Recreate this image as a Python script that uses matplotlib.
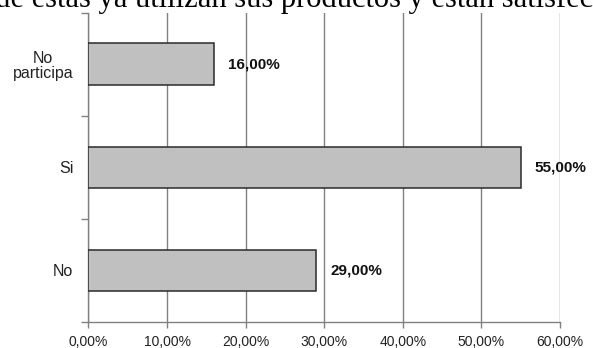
import matplotlib.pyplot as plt
import numpy as np

# survey answers, bottom to top
categorias = ['No', 'Si', 'No\nparticipa']
porcentajes = [29.0, 55.0, 16.0]
ticks_x = [0, 10, 20, 30, 40, 50, 60]

plt.rcParams['font.family'] = ['Liberation Sans', 'DejaVu Sans']

fig = plt.figure(figsize=(5.93, 3.48), dpi=100)
ax = fig.add_axes([0.1492, 0.0747, 0.7952, 0.8893])

y = np.arange(len(categorias))
ax.barh(y, porcentajes, height=0.4, color='#c0c0c0', edgecolor='#2b2b2b',
        linewidth=1.1, zorder=3)

def fmt(v):
    return '{:.2f}%'.format(v).replace('.', ',')

for yi, v in zip(y, porcentajes):
    ax.annotate(fmt(v), (v, yi), xytext=(10, 0), textcoords='offset points',
                va='center', ha='left', fontsize=11, fontweight='bold',
                color='#111111', zorder=4)

ax.set_xlim(0, 60)
ax.set_ylim(-0.5, len(categorias) - 0.5)
ax.set_xticks(ticks_x)
ax.set_xticklabels([fmt(t) for t in ticks_x], fontsize=10, color='#222222')
ax.set_yticks(y)
ax.set_yticklabels(categorias, fontsize=11.5, color='#222222', ha='right',
                   multialignment='center', linespacing=1.0)
ax.tick_params(axis='y', length=0, pad=11)
ax.set_yticks(np.arange(len(categorias) + 1) - 0.5, minor=True)
ax.tick_params(axis='y', which='minor', length=5, color='#808080', width=1)
ax.tick_params(axis='x', length=4, color='#808080', width=1, pad=5)

ax.grid(axis='x', color='#808080', linewidth=1, zorder=0)
for s in ['top', 'right']:
    ax.spines[s].set_visible(False)
for s in ['left', 'bottom']:
    ax.spines[s].set_color('#808080')
    ax.spines[s].set_linewidth(1)

# surrounding document line cut by the image edge
fig.text(-20.5 / 593, 1 - 7.5 / 348,
         'que estas ya utilizan sus productos y están satisfechos',
         family='Liberation Serif', fontsize=22, va='baseline', ha='left',
         color='black')

fig.savefig('out.png', dpi=100)
